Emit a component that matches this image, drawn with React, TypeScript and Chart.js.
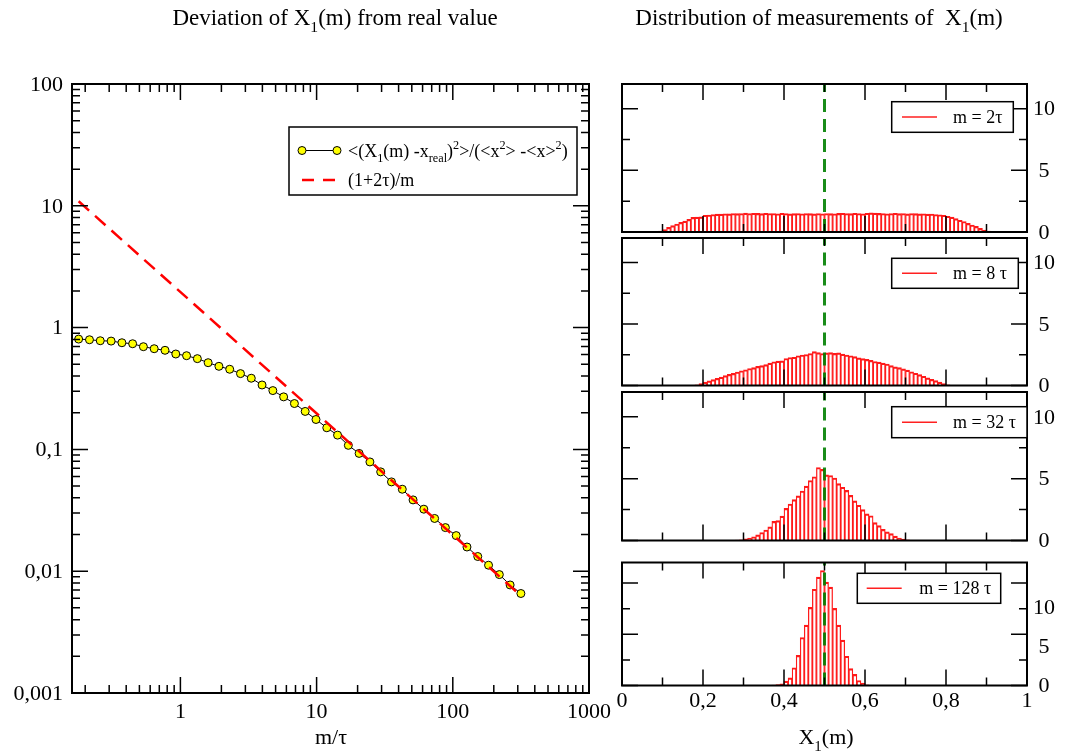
import { useEffect, useRef } from 'react';
import { Chart, registerables } from 'chart.js';

Chart.register(...registerables);

const W = 1065;
const H = 752;
const SERIF = '"Liberation Serif", "Times New Roman", Times, serif';

// ---- Left panel: normalised squared deviation of X1(m) against m/tau ----
const mOverTau = [
  0.179, 0.215, 0.258, 0.31, 0.372, 0.446, 0.535, 0.642, 0.771, 0.925,
  1.11, 1.332, 1.598, 1.918, 2.302, 2.762, 3.314, 3.977, 4.773, 5.727,
  6.873, 8.247, 9.897, 11.88, 14.25, 17.1, 20.52, 24.63, 29.55, 35.46,
  42.56, 51.07, 61.28, 73.54, 88.25, 105.9, 127.1, 152.5, 183, 219.6,
  263.5, 316.2,
];
const deviation = [
  0.805, 0.795, 0.78, 0.775, 0.751, 0.737, 0.697, 0.671, 0.651, 0.607,
  0.588, 0.556, 0.515, 0.481, 0.455, 0.419, 0.384, 0.338, 0.304, 0.27,
  0.238, 0.205, 0.176, 0.1505, 0.131, 0.108, 0.0927, 0.0789, 0.0654, 0.0541,
  0.0471, 0.0385, 0.0323, 0.0271, 0.0228, 0.0196, 0.0158, 0.0132, 0.0112, 0.00938,
  0.00771, 0.00656,
];
// (1+2tau)/m is a straight line in log-log: its two end points
const refLineX = [0.179, 316.2];
const refLineY = [10.9, 0.0063];

const devXTickValues = [1, 10, 100, 1000];
const devXTickLabels = ['1', '10', '100', '1000'];
const devYTickValues = [0.001, 0.01, 0.1, 1, 10, 100];
const devYTickLabels = ['0,001', '0,01', '0,1', '1', '10', '100'];

// ---- Right panels: histograms of X1(m), 100 bins on [0, 1] ----
const BIN_COUNT = 100;
const histLabels = ['m = 2\u03c4', 'm = 8 \u03c4', 'm = 32 \u03c4', 'm = 128 \u03c4'];
const histStartBins = [8, 17, 28, 37];
const hist2 = [
  0.02, 0.08, 0.2, 0.38, 0.52, 0.65, 0.78, 0.88, 1.02, 1.18,
  1.2, 1.22, 1.36, 1.38, 1.42, 1.45, 1.45, 1.48, 1.47, 1.5,
  1.49, 1.5, 1.53, 1.5, 1.52, 1.51, 1.49, 1.52, 1.5, 1.5,
  1.48, 1.52, 1.5, 1.47, 1.49, 1.5, 1.48, 1.5, 1.49, 1.47,
  1.5, 1.48, 1.5, 1.49, 1.48, 1.51, 1.52, 1.5, 1.49, 1.52,
  1.5, 1.48, 1.52, 1.55, 1.53, 1.51, 1.5, 1.48, 1.5, 1.52,
  1.49, 1.5, 1.47, 1.5, 1.49, 1.47, 1.48, 1.45, 1.46, 1.42,
  1.4, 1.36, 1.28, 1.2, 1.08, 0.95, 0.85, 0.7, 0.57, 0.45,
  0.3, 0.16, 0.07, 0.02,
];
const hist8 = [
  0.02, 0.06, 0.15, 0.28, 0.38, 0.48, 0.58, 0.68, 0.8, 0.9,
  0.98, 1.1, 1.2, 1.28, 1.38, 1.46, 1.55, 1.62, 1.7, 1.82,
  1.93, 1.98, 2.0, 2.2, 2.28, 2.3, 2.42, 2.48, 2.52, 2.6,
  2.76, 2.68, 2.6, 2.66, 2.68, 2.62, 2.65, 2.55, 2.48, 2.42,
  2.35, 2.25, 2.18, 2.12, 2.05, 1.95, 1.9, 1.82, 1.75, 1.62,
  1.52, 1.45, 1.35, 1.25, 1.12, 1.0, 0.88, 0.75, 0.62, 0.5,
  0.4, 0.28, 0.15, 0.06, 0.02,
];
const hist32 = [
  0.03, 0.06, 0.14, 0.2, 0.3, 0.45, 0.65, 0.85, 1.1, 1.55,
  1.6, 1.97, 2.6, 2.95, 3.3, 3.6, 4.0, 4.4, 4.85, 5.15,
  5.9, 5.75, 5.3, 5.25, 5.05, 4.6, 4.3, 4.05, 3.65, 3.2,
  2.85, 2.5, 2.15, 2.0, 1.45, 1.2, 0.9, 0.7, 0.55, 0.35,
  0.2, 0.12, 0.06, 0.02,
];
const hist128 = [
  0.03, 0.08, 0.16, 0.43, 0.75, 1.73, 2.94, 4.68, 5.89, 7.62,
  9.39, 10.57, 11.22, 10.08, 9.59, 7.53, 5.89, 4.42, 2.85, 1.64,
  1.08, 0.49, 0.23, 0.07, 0.02,
];
const histValues = [hist2, hist8, hist32, hist128];
const realValue = 0.5;

const histXTickValues = [0, 0.2, 0.4, 0.6, 0.8, 1];
const histXTickLabels = ['0', '0,2', '0,4', '0,6', '0,8', '1'];
const histYTickValues = [0, 5, 10];
const histYTickLabels = ['0', '5', '10'];

// Panel geometry on the page
const LEFT_AREA = { left: 72, top: 84, right: 589, bottom: 693 };
const RIGHT_LEFT = 622;
const RIGHT_RIGHT = 1027;
const PANELS = [
  { top: 84, bottom: 232, box: [891.7, 101.7, 1013.3, 132.3], line: [902, 937], text: 953 },
  { top: 238, bottom: 385.5, box: [891.7, 258.3, 1018.3, 288.3], line: [902, 937], text: 953 },
  { top: 392, bottom: 540.5, box: [891.7, 406.7, 1027, 437.7], line: [902, 937], text: 953 },
  { top: 562.5, bottom: 685.5, box: [857.3, 573.3, 1000.7, 603.3], line: [866.7, 901.7], text: 919.3 },
];

type Run = [string, number]; // 0 normal, 1 subscript, -1 superscript

function drawRuns(ctx: CanvasRenderingContext2D, runs: Run[], x: number, y: number, size: number, align: 'left' | 'center') {
  const small = size * 0.68;
  const widths = runs.map(([t, k]) => {
    ctx.font = `${k ? small : size}px ${SERIF}`;
    return ctx.measureText(t).width;
  });
  const total = widths.reduce((a, b) => a + b, 0);
  let cx = align === 'center' ? x - total / 2 : x;
  ctx.textAlign = 'left';
  ctx.textBaseline = 'alphabetic';
  runs.forEach(([t, k], i) => {
    ctx.font = `${k ? small : size}px ${SERIF}`;
    const dy = k === 1 ? size * 0.3 : k === -1 ? -size * 0.42 : 0;
    ctx.fillText(t, cx, y + dy);
    cx += widths[i];
  });
}

type TickSet = { major: number[]; minor: number[] };

function drawFrame(chart: any, xt: TickSet, yt: TickSet) {
  const { ctx, chartArea: a } = chart;
  const xs = chart.scales.x;
  const ys = chart.scales.y;
  const MAJ = 16;
  const MIN = 8;
  ctx.save();
  ctx.strokeStyle = '#000';
  ctx.lineWidth = 1.5;
  ctx.beginPath();
  const xTick = (v: number, len: number) => {
    const p = xs.getPixelForValue(v);
    ctx.moveTo(p, a.bottom);
    ctx.lineTo(p, a.bottom - len);
    ctx.moveTo(p, a.top);
    ctx.lineTo(p, a.top + len);
  };
  const yTick = (v: number, len: number) => {
    const p = ys.getPixelForValue(v);
    ctx.moveTo(a.left, p);
    ctx.lineTo(a.left + len, p);
    ctx.moveTo(a.right, p);
    ctx.lineTo(a.right - len, p);
  };
  xt.major.forEach((v) => xTick(v, MAJ));
  xt.minor.forEach((v) => xTick(v, MIN));
  yt.major.forEach((v) => yTick(v, MAJ));
  yt.minor.forEach((v) => yTick(v, MIN));
  ctx.stroke();
  ctx.lineWidth = 2;
  ctx.strokeRect(a.left, a.top, a.right - a.left, a.bottom - a.top);
  ctx.restore();
}

function logMinors(lo: number, hi: number) {
  const out: number[] = [];
  for (let d = Math.floor(Math.log10(lo)); d < Math.ceil(Math.log10(hi)); d++) {
    for (let k = 2; k <= 9; k++) {
      const v = k * Math.pow(10, d);
      if (v > lo && v < hi) out.push(v);
    }
  }
  return out;
}

const deviationPlugin = {
  id: 'deviationDecor',
  afterDraw(chart: any) {
    const { ctx } = chart;
    const xs = chart.scales.x;
    const ys = chart.scales.y;
    drawFrame(
      chart,
      { major: devXTickValues, minor: logMinors(0.16, 1000) },
      { major: devYTickValues, minor: logMinors(0.001, 100) },
    );
    ctx.save();
    ctx.fillStyle = '#000';
    ctx.font = `22px ${SERIF}`;
    ctx.textAlign = 'right';
    ctx.textBaseline = 'middle';
    devYTickValues.forEach((v, i) => ctx.fillText(devYTickLabels[i], 63, ys.getPixelForValue(v) + 1));
    ctx.textAlign = 'center';
    devXTickValues.forEach((v, i) => ctx.fillText(devXTickLabels[i], xs.getPixelForValue(v), 712));
    ctx.fillText('m/\u03c4', 331, 738);
    drawRuns(ctx, [['Deviation of X', 0], ['1', 1], ['(m) from real value', 0]], 335, 25, 23, 'center');

    // legend
    ctx.fillStyle = '#fff';
    ctx.fillRect(289, 127, 288, 68);
    ctx.strokeStyle = '#000';
    ctx.lineWidth = 1.5;
    ctx.strokeRect(289, 127, 288, 68);
    ctx.lineWidth = 1;
    ctx.beginPath();
    ctx.moveTo(302, 150.5);
    ctx.lineTo(337, 150.5);
    ctx.stroke();
    [302, 337].forEach((cx) => {
      ctx.beginPath();
      ctx.arc(cx, 150.5, 4, 0, Math.PI * 2);
      ctx.fillStyle = '#ffff00';
      ctx.fill();
      ctx.stroke();
    });
    ctx.strokeStyle = '#ff0000';
    ctx.lineWidth = 2.5;
    ctx.setLineDash([12, 9]);
    ctx.beginPath();
    ctx.moveTo(302, 180);
    ctx.lineTo(337, 180);
    ctx.stroke();
    ctx.setLineDash([]);
    ctx.fillStyle = '#000';
    drawRuns(
      ctx,
      [['<(X', 0], ['1', 1], ['(m) -x', 0], ['real', 1], [')', 0], ['2', -1], ['>/(<x', 0], ['2', -1], ['> -<x>', 0], ['2', -1], [')', 0]],
      348, 157, 18, 'left',
    );
    drawRuns(ctx, [['(1+2\u03c4)/m', 0]], 348, 186, 18, 'left');
    ctx.restore();
  },
};

function histPlugin(idx: number) {
  return {
    id: 'histDecor' + idx,
    afterDraw(chart: any) {
      const { ctx } = chart;
      const p = PANELS[idx];
      drawFrame(
        chart,
        { major: histXTickValues, minor: [0.1, 0.3, 0.5, 0.7, 0.9] },
        { major: histYTickValues, minor: [2.5, 7.5] },
      );
      ctx.save();
      ctx.fillStyle = '#000';
      ctx.font = `22px ${SERIF}`;
      ctx.textAlign = 'center';
      ctx.textBaseline = 'middle';
      const labelScale = chart.scales.yLabels || chart.scales.y;
      histYTickValues.forEach((v, i) => ctx.fillText(histYTickLabels[i], 1044, labelScale.getPixelForValue(v) + 1));
      if (idx === 0) {
        drawRuns(ctx, [['Distribution of measurements of  X', 0], ['1', 1], ['(m)', 0]], 819, 25, 23, 'center');
      }
      if (idx === PANELS.length - 1) {
        const xs = chart.scales.x;
        ctx.textAlign = 'center';
        ctx.textBaseline = 'middle';
        ctx.font = `22px ${SERIF}`;
        histXTickValues.forEach((v, i) => ctx.fillText(histXTickLabels[i], xs.getPixelForValue(v), 701));
        drawRuns(ctx, [['X', 0], ['1', 1], ['(m)', 0]], 826, 744, 22, 'center');
      }
      // legend box
      const [bx0, by0, bx1, by1] = p.box;
      const cy = (by0 + by1) / 2;
      ctx.fillStyle = '#fff';
      ctx.fillRect(bx0, by0, bx1 - bx0, by1 - by0);
      ctx.strokeStyle = '#000';
      ctx.lineWidth = 1.5;
      ctx.strokeRect(bx0, by0, bx1 - bx0, by1 - by0);
      ctx.strokeStyle = '#ff2020';
      ctx.lineWidth = 1.5;
      ctx.beginPath();
      ctx.moveTo(p.line[0], cy);
      ctx.lineTo(p.line[1], cy);
      ctx.stroke();
      ctx.fillStyle = '#000';
      ctx.font = `18px ${SERIF}`;
      ctx.textAlign = 'left';
      ctx.textBaseline = 'middle';
      ctx.fillText(histLabels[idx], p.text, cy + 1);
      ctx.restore();
    },
  };
}

export default function App() {
  const leftRef = useRef<HTMLCanvasElement>(null);
  const histRefs = useRef<(HTMLCanvasElement | null)[]>([]);

  useEffect(() => {
    const charts: Chart[] = [];
    if (leftRef.current) {
      charts.push(
        new Chart(leftRef.current, {
          type: 'line',
          data: {
            datasets: [
              {
                label: '(1+2\u03c4)/m',
                data: refLineX.map((x, i) => ({ x, y: refLineY[i] })),
                borderColor: '#ff0000',
                borderWidth: 2.5,
                borderDash: [14, 8],
                pointRadius: 0,
                order: 0,
              },
              {
                label: 'deviation',
                data: mOverTau.map((x, i) => ({ x, y: deviation[i] })),
                borderColor: '#000',
                borderWidth: 1,
                pointRadius: 4,
                pointBackgroundColor: '#ffff00',
                pointBorderColor: '#000',
                pointBorderWidth: 1,
                order: 1,
              },
            ],
          },
          options: {
            responsive: false,
            animation: false,
            events: [],
            layout: { padding: { left: LEFT_AREA.left, top: LEFT_AREA.top, right: W - LEFT_AREA.right, bottom: H - LEFT_AREA.bottom } },
            scales: {
              x: { type: 'logarithmic', min: 0.16, max: 1000, display: false },
              y: { type: 'logarithmic', min: 0.001, max: 100, display: false },
            },
            plugins: { legend: { display: false }, tooltip: { enabled: false } },
          },
          plugins: [deviationPlugin],
        } as any),
      );
    }

    PANELS.forEach((p, idx) => {
      const canvas = histRefs.current[idx];
      if (!canvas) return;
      const start = histStartBins[idx];
      const vals = histValues[idx];
      const bins = Array.from({ length: BIN_COUNT }, (_, i) => ({
        x: (i + 0.5) / BIN_COUNT,
        y: i >= start && i < start + vals.length ? vals[i - start] : 0,
      }));
      const scales: any = {
        x: { type: 'linear', min: 0, max: 1, offset: false, display: false },
        y: { type: 'linear', min: 0, max: 12, display: false },
      };
      if (idx === PANELS.length - 1) {
        // tick labels of the bottom panel follow their own, taller axis
        scales.yLabels = { type: 'linear', axis: 'y', min: 0, max: 15.77, display: false };
      }
      charts.push(
        new Chart(canvas, {
          type: 'bar',
          data: {
            datasets: [
              {
                type: 'line',
                label: 'real value',
                data: [{ x: realValue, y: 0 }, { x: realValue, y: 12 }],
                borderColor: 'rgba(0,128,0,0.9)',
                borderWidth: 3,
                borderDash: [13, 7],
                pointRadius: 0,
                yAxisID: 'y',
                order: 0,
              },
              {
                type: 'bar',
                label: histLabels[idx],
                data: bins,
                backgroundColor: 'rgba(255,255,255,0)',
                borderColor: '#ff1a1a',
                borderWidth: { top: 1.5, left: 0.6, right: 0.6, bottom: 0 },
                borderSkipped: false,
                barPercentage: 1,
                categoryPercentage: 1,
                yAxisID: 'y',
                order: 1,
              },
            ],
          },
          options: {
            responsive: false,
            animation: false,
            events: [],
            layout: { padding: { left: RIGHT_LEFT, top: p.top, right: W - RIGHT_RIGHT, bottom: H - p.bottom } },
            scales,
            plugins: { legend: { display: false }, tooltip: { enabled: false } },
          },
          plugins: [histPlugin(idx)],
        } as any),
      );
    });

    return () => charts.forEach((c) => c.destroy());
  }, []);

  const canvasStyle: React.CSSProperties = { position: 'absolute', left: 0, top: 0, width: W, height: H };
  return (
    <div style={{ position: 'fixed', left: 0, top: 0, width: W, height: H, background: '#fff' }}>
      <canvas ref={leftRef} width={W} height={H} style={canvasStyle} />
      {PANELS.map((_, i) => (
        <canvas
          key={i}
          ref={(el) => {
            histRefs.current[i] = el;
          }}
          width={W}
          height={H}
          style={canvasStyle}
        />
      ))}
    </div>
  );
}
